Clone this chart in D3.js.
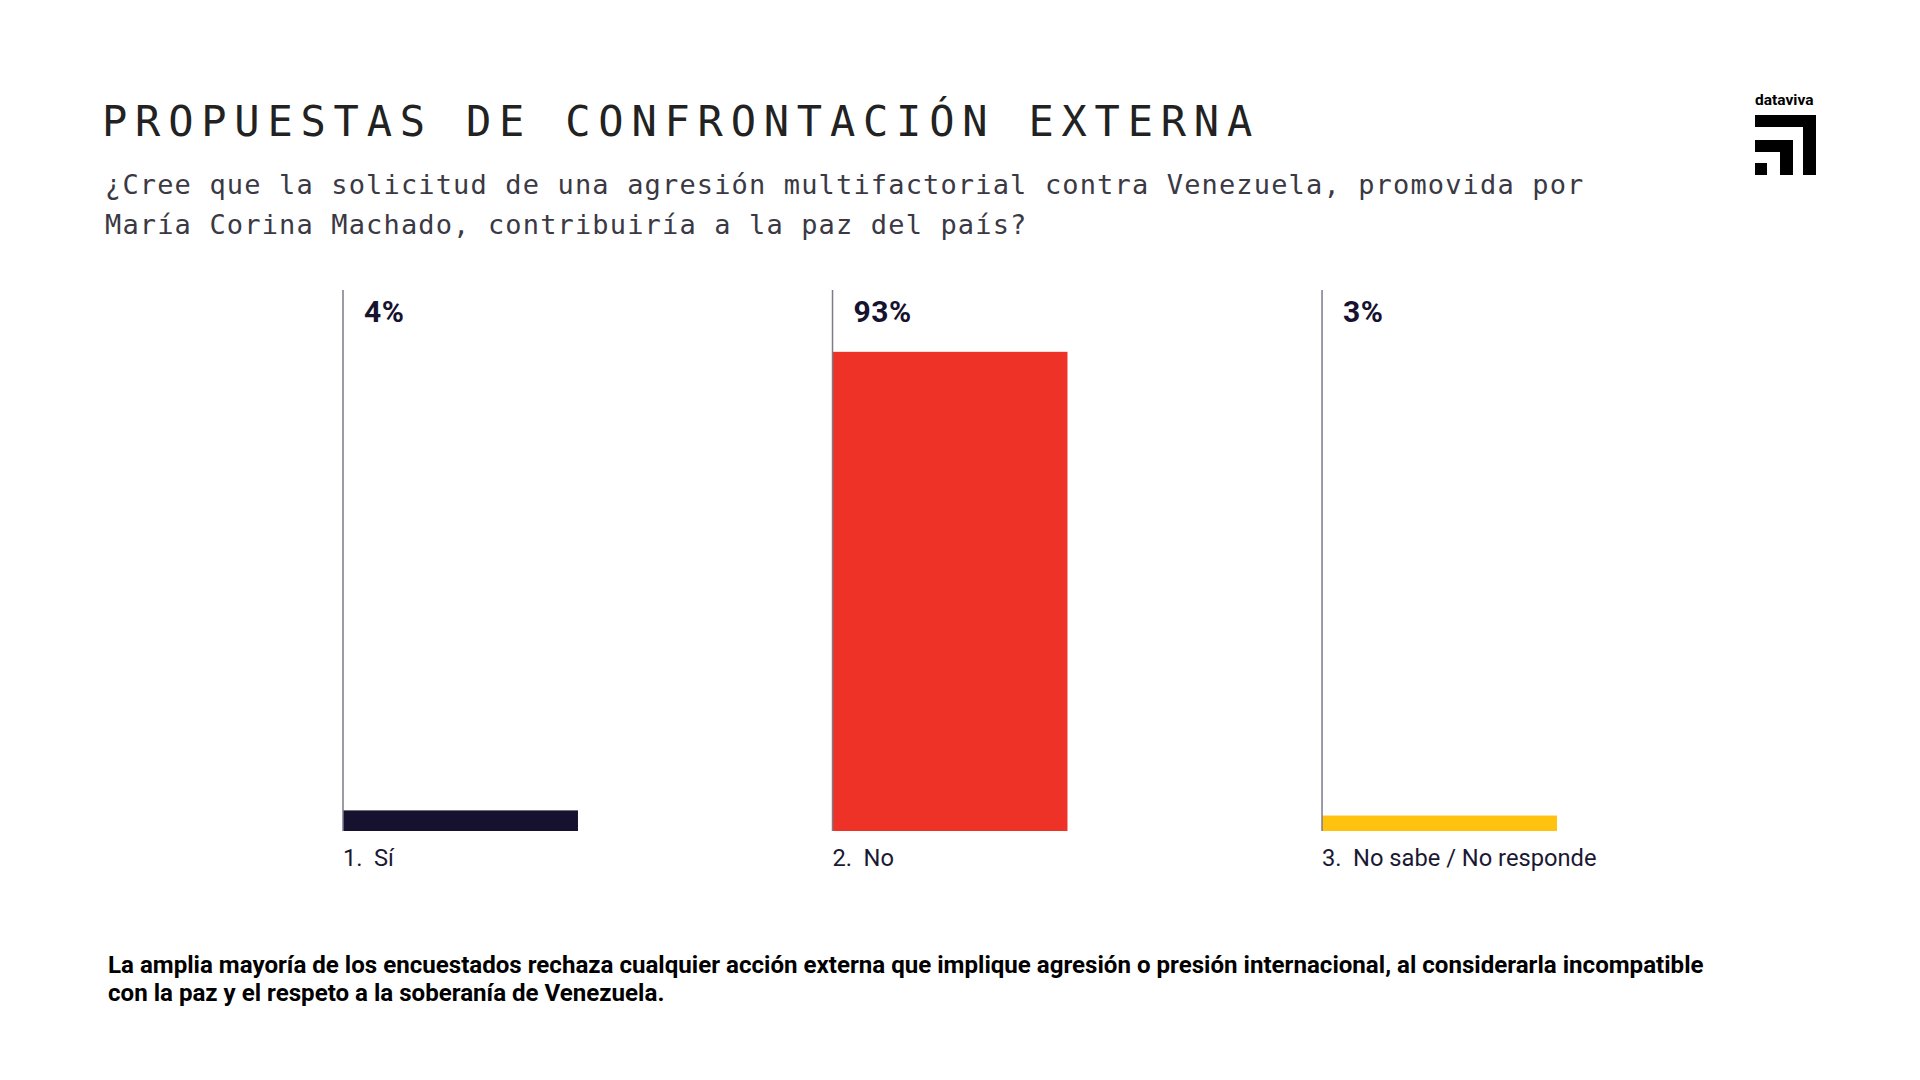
<!DOCTYPE html>
<html>
<head>
<meta charset="utf-8">
<script src="https://cdn.jsdelivr.net/npm/d3@7"></script>
<style>
  body { margin: 0; background: #fff; }
  svg { display: block; }
</style>
</head>
<body>
<div id="chart"></div>
<script>
const categories = ["Sí", "No", "No sabe / No responde"];
const values = [4, 93, 3];
const colors = ["#15112f", "#ef3228", "#ffc20e"];

const title = "PROPUESTAS DE CONFRONTACIÓN EXTERNA";
const subtitle = [
  "¿Cree que la solicitud de una agresión multifactorial contra Venezuela, promovida por",
  "María Corina Machado, contribuiría a la paz del país?"
];
const note = [
  "La amplia mayoría de los encuestados rechaza cualquier acción externa que implique agresión o presión internacional, al considerarla incompatible",
  "con la paz y el respeto a la soberanía de Venezuela."
];

const width = 1920,
  height = 1080;

const svg = d3.select("#chart")
  .append("svg")
  .attr("width", width)
  .attr("height", height)
  .attr("viewBox", [0, 0, width, height]);

// header
svg.append("text")
  .attr("x", 102)
  .attr("y", 136)
  .attr("font-family", "DejaVu Sans Mono")
  .attr("font-size", 42)
  .attr("letter-spacing", 7.8)
  .attr("fill", "#222")
  .text(title);

svg.append("g")
  .selectAll("text")
  .data(subtitle)
  .join("text")
  .attr("x", 105)
  .attr("y", (d, i) => 194 + i * 40)
  .attr("font-family", "DejaVu Sans Mono")
  .attr("font-size", 27)
  .attr("letter-spacing", 1.15)
  .attr("fill", "#3a3944")
  .text(d => d);

// logo
const logo = svg.append("g").attr("fill", "#000");
logo.append("text")
  .attr("x", 1755)
  .attr("y", 105)
  .attr("font-family", "Roboto")
  .attr("font-weight", 700)
  .attr("font-size", 15.5)
  .text("dataviva");
[[1755, 115, 61, 12], [1803, 115, 13, 60], [1755, 140, 38, 12], [1780, 140, 13, 35], [1755, 163, 12, 12]]
  .forEach(([x, y, w, h]) => logo.append("rect").attr("x", x).attr("y", y).attr("width", w).attr("height", h));

// scales
const x = d3.scaleBand()
  .domain(categories)
  .range([343, 1557])
  .paddingInner(0.52)
  .paddingOuter(0);

const y = d3.scaleLinear()
  .domain([0, 105])
  .range([831, 290]);

const cols = svg.append("g")
  .selectAll("g")
  .data(categories)
  .join("g")
  .attr("transform", d => `translate(${x(d)},0)`);

cols.append("rect")
  .attr("x", 0)
  .attr("y", (d, i) => y(values[i]))
  .attr("width", x.bandwidth())
  .attr("height", (d, i) => y(0) - y(values[i]))
  .attr("fill", (d, i) => colors[i]);

cols.append("line")
  .attr("x1", 0)
  .attr("x2", 0)
  .attr("y1", y(105))
  .attr("y2", y(0))
  .attr("stroke", "#7d7a8c")
  .attr("stroke-width", 1.5);

cols.append("text")
  .attr("x", 21)
  .attr("y", y(100) + 6)
  .attr("font-family", "Roboto")
  .attr("font-weight", 700)
  .attr("font-size", 30)
  .attr("letter-spacing", 0.5)
  .attr("fill", "#16122f")
  .text((d, i) => values[i] + "%");

const lab = cols.append("text")
  .attr("y", y(0) + 35)
  .attr("font-family", "Roboto")
  .attr("font-size", 23.7)
  .attr("fill", "#1b1834");
lab.append("tspan").attr("x", 0).text((d, i) => (i + 1) + ".");
lab.append("tspan").attr("x", 31).text(d => d);

// footnote
svg.append("g")
  .selectAll("text")
  .data(note)
  .join("text")
  .attr("x", 108)
  .attr("y", (d, i) => 973 + i * 28)
  .attr("font-family", "Roboto")
  .attr("font-weight", 700)
  .attr("font-size", 24.1)
  .attr("fill", "#000")
  .text(d => d);
</script>
</body>
</html>
